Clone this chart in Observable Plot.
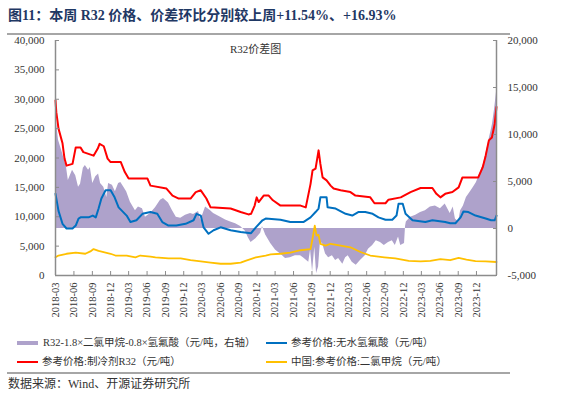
<!DOCTYPE html>
<html><head><meta charset="utf-8">
<script src="https://cdn.jsdelivr.net/npm/d3@7"></script>
<script src="https://cdn.jsdelivr.net/npm/@observablehq/plot@0.6"></script>
<style>
body{margin:0;background:#fff;}
#wrap{position:relative;width:563px;height:412px;font-family:"Liberation Serif","Noto Sans CJK SC",serif;overflow:hidden;}
#title{position:absolute;left:8px;top:7px;font-size:14px;line-height:18px;font-weight:bold;color:#1F3864;white-space:nowrap;}
#topline{position:absolute;left:7px;top:33px;width:503px;height:2px;background:#A6A6A6;}
#chart{position:absolute;left:0;top:34px;}
#ctitle{position:absolute;left:230px;top:40px;font-size:11px;color:#333;white-space:nowrap;}
.lg{position:absolute;font-size:10.5px;color:#333;white-space:nowrap;line-height:14px;}
.sw{position:absolute;width:21px;}
#botline{position:absolute;left:7px;top:372px;width:503px;height:2px;background:#A6A6A6;}
#source{position:absolute;left:8px;top:376px;font-size:12px;line-height:16px;color:#333;white-space:nowrap;}
</style></head>
<body>
<div id="wrap">
  <div id="title">图11：本周 R32 价格、价差环比分别较上周+11.54%、+16.93%</div>
  <div id="topline"></div>
  <div id="chart"></div>
  <div id="ctitle">R32价差图</div>
  <div class="sw" style="left:17px;top:341px;height:4px;background:#AEA2CB"></div>
  <div class="lg" style="left:43px;top:336px">R32-1.8×二氯甲烷-0.8×氢氟酸（元/吨，右轴）</div>
  <div class="sw" style="left:266px;top:342px;height:2px;background:#0070C0"></div>
  <div class="lg" style="left:291px;top:336px">参考价格:无水氢氟酸（元/吨）</div>
  <div class="sw" style="left:17px;top:361px;height:2px;background:#FF0000"></div>
  <div class="lg" style="left:42px;top:355px">参考价格:制冷剂R32（元/吨）</div>
  <div class="sw" style="left:266px;top:361px;height:2px;background:#FFC000"></div>
  <div class="lg" style="left:291px;top:355px">中国:参考价格:二氯甲烷（元/吨）</div>
  <div id="botline"></div>
  <div id="source">数据来源：Wind、开源证券研究所</div>
</div>
<script>
// R32 spread (right axis, yuan/ton)
const spreadSeries = [["2018-03-01",13400],["2018-03-05",11500],["2018-03-16",9400],["2018-04-05",8000],["2018-04-25",6500],["2018-05-04",5100],["2018-05-25",6200],["2018-06-10",5600],["2018-06-24",4400],["2018-07-04",4700],["2018-07-18",6400],["2018-07-28",6700],["2018-08-13",6200],["2018-08-22",6500],["2018-09-03",4800],["2018-09-18",5500],["2018-10-02",5800],["2018-10-12",4800],["2018-10-28",4400],["2018-11-12",3300],["2018-11-21",4800],["2018-12-10",4600],["2018-12-25",3900],["2019-01-10",4800],["2019-01-21",4900],["2019-02-05",4400],["2019-02-19",3900],["2019-03-10",2800],["2019-04-04",1900],["2019-04-19",2300],["2019-05-09",2100],["2019-05-24",1200],["2019-06-18",1600],["2019-07-13",2200],["2019-08-07",3000],["2019-08-22",3200],["2019-09-16",2700],["2019-10-06",1900],["2019-10-25",1200],["2019-11-16",1100],["2019-12-10",1400],["2020-01-04",1600],["2020-01-19",1500],["2020-02-13",1800],["2020-02-24",850],["2020-03-19",2300],["2020-04-13",1900],["2020-04-28",1600],["2020-06-02",1200],["2020-06-27",900],["2020-07-22",700],["2020-08-16",500],["2020-09-10",200],["2020-10-04",-300],["2020-10-19",-1000],["2020-11-01",-1500],["2020-11-25",-1100],["2020-12-19",-500],["2020-12-28",200],["2021-01-13",-700],["2021-02-07",-1600],["2021-03-03",-2300],["2021-03-28",-2700],["2021-04-22",-3200],["2021-05-16",-3100],["2021-06-10",-2900],["2021-07-06",-2900],["2021-07-20",-3100],["2021-08-16",-3600],["2021-08-25",-2300],["2021-09-04",-4600],["2021-09-15",-2000],["2021-09-24",-4800],["2021-10-04",-4100],["2021-10-13",-1500],["2021-10-24",-1600],["2021-11-08",-2700],["2021-11-23",-3100],["2021-12-12",-2900],["2021-12-28",-3400],["2022-01-12",-3200],["2022-02-02",-3800],["2022-02-16",-3100],["2022-03-01",-2900],["2022-03-21",-3600],["2022-04-10",-3900],["2022-05-01",-3400],["2022-05-25",-2900],["2022-06-10",-2200],["2022-07-01",-1800],["2022-07-19",-1300],["2022-08-09",-1500],["2022-08-28",-1800],["2022-09-18",-1500],["2022-10-07",-1300],["2022-10-22",-1800],["2022-11-07",-900],["2022-11-18",-1800],["2022-12-07",-1600],["2022-12-12",200],["2022-12-16",700],["2023-01-06",1200],["2023-02-01",1400],["2023-02-25",1700],["2023-03-21",1900],["2023-04-15",2300],["2023-05-10",2400],["2023-06-04",2100],["2023-06-28",2600],["2023-07-23",1600],["2023-08-07",2300],["2023-08-18",1000],["2023-09-03",700],["2023-09-13",1900],["2023-09-27",2400],["2023-10-12",3300],["2023-11-01",3900],["2023-11-16",4400],["2023-12-01",4900],["2023-12-21",6000],["2024-01-06",6900],["2024-01-21",8300],["2024-02-01",9400],["2024-02-12",10400],["2024-02-19",11100],["2024-03-01",12800],["2024-03-10",14500]];

// 参考价格:无水氢氟酸
const hfSeries = [["2018-03-01",13900],["2018-03-16",11000],["2018-04-05",8800],["2018-04-25",8000],["2018-05-25",8000],["2018-06-10",8500],["2018-06-24",9700],["2018-07-04",9900],["2018-08-13",9900],["2018-09-03",10200],["2018-09-18",9900],["2018-10-02",11400],["2018-10-16",13100],["2018-11-06",14500],["2018-12-01",14500],["2018-12-21",13300],["2019-01-10",11600],["2019-02-19",10200],["2019-03-10",9100],["2019-04-09",9400],["2019-05-09",10500],["2019-06-18",10800],["2019-07-22",10500],["2019-08-16",9100],["2019-09-16",8500],["2019-10-25",8500],["2019-12-10",8800],["2020-01-19",9400],["2020-02-03",10500],["2020-02-24",10200],["2020-03-09",8200],["2020-04-03",7100],["2020-04-28",7700],["2020-06-02",8200],["2020-07-22",7700],["2020-09-10",7400],["2020-11-01",7200],["2020-11-25",8200],["2020-12-28",9400],["2021-01-13",9700],["2021-03-28",9500],["2021-05-16",9100],["2021-07-20",9100],["2021-08-25",9900],["2021-09-19",10800],["2021-10-04",11400],["2021-10-13",13300],["2021-11-13",13300],["2021-11-18",11600],["2021-12-28",11400],["2022-02-16",10500],["2022-03-21",10200],["2022-04-20",10800],["2022-05-25",10800],["2022-07-01",10500],["2022-07-30",9900],["2022-09-03",9500],["2022-10-07",9500],["2022-10-28",10200],["2022-11-07",12200],["2022-11-28",12200],["2022-12-12",10500],["2023-01-16",9400],["2023-03-21",9100],["2023-04-25",9400],["2023-06-28",9100],["2023-07-23",8900],["2023-08-18",8900],["2023-09-13",9900],["2023-09-27",10900],["2023-10-22",10800],["2023-11-26",10200],["2024-01-16",9700],["2024-02-12",9400],["2024-03-01",9400],["2024-03-10",10200]];

// 参考价格:制冷剂R32
const r32Series = [["2018-03-01",29800],["2018-03-05",27800],["2018-03-16",25000],["2018-04-05",22500],["2018-04-15",19900],["2018-04-25",18700],["2018-05-25",19000],["2018-06-10",21800],["2018-07-04",21800],["2018-07-18",21000],["2018-09-07",20400],["2018-09-28",21600],["2018-10-07",22400],["2018-10-28",22000],["2018-11-16",19900],["2018-12-01",19300],["2019-01-21",19300],["2019-02-10",17600],["2019-03-01",16500],["2019-06-03",16500],["2019-06-18",15300],["2019-09-06",14800],["2019-10-06",13600],["2019-11-06",13100],["2020-01-04",13100],["2020-01-30",14200],["2020-02-24",14500],["2020-03-23",13100],["2020-04-13",11600],["2020-07-22",11400],["2020-09-10",10800],["2020-10-19",10400],["2020-11-01",10500],["2020-11-19",11900],["2020-11-29",13300],["2020-12-09",12500],["2021-01-03",13600],["2021-01-28",13600],["2021-02-18",12800],["2021-03-28",11900],["2021-07-06",11900],["2021-08-01",11600],["2021-08-25",15600],["2021-09-04",17900],["2021-09-19",18200],["2021-10-04",21300],["2021-10-13",19000],["2021-10-24",16700],["2021-11-13",16200],["2021-12-03",15300],["2021-12-18",14800],["2022-01-22",14500],["2022-03-12",14200],["2022-04-06",13600],["2022-06-19",13300],["2022-07-10",12300],["2022-09-03",12300],["2022-09-18",12900],["2022-11-18",13300],["2023-01-06",14200],["2023-02-25",14900],["2023-04-25",14900],["2023-05-15",13900],["2023-06-04",13300],["2023-06-28",13900],["2023-08-03",14200],["2023-09-03",15000],["2023-09-22",16700],["2023-12-10",16700],["2024-01-01",18400],["2024-01-16",20400],["2024-02-01",23000],["2024-02-16",23500],["2024-03-01",25800],["2024-03-10",28700]];

// 中国:参考价格:二氯甲烷
const dcmSeries = [["2018-03-01",3100],["2018-03-16",3400],["2018-04-25",3700],["2018-06-10",3900],["2018-07-28",3700],["2018-08-22",4100],["2018-09-07",4500],["2018-10-02",4200],["2018-11-06",3900],["2018-12-01",3700],["2018-12-25",3400],["2019-02-19",3400],["2019-04-04",3100],["2019-04-28",3400],["2019-06-18",3200],["2019-07-13",3100],["2019-09-16",2900],["2019-11-16",2900],["2020-01-04",2600],["2020-02-24",2400],["2020-04-13",2200],["2020-06-02",2000],["2020-07-22",2000],["2020-09-10",2200],["2020-10-04",2500],["2020-11-25",3100],["2021-01-13",3400],["2021-02-07",3600],["2021-03-28",3700],["2021-05-16",3900],["2021-07-06",4300],["2021-08-25",4500],["2021-09-04",6300],["2021-09-15",8500],["2021-09-24",6800],["2021-10-04",6900],["2021-10-13",5400],["2021-11-08",5100],["2021-12-03",5400],["2022-01-22",5100],["2022-03-12",4800],["2022-05-01",4000],["2022-06-19",3400],["2022-08-28",3100],["2022-10-22",2900],["2022-12-28",2500],["2023-02-25",2400],["2023-04-15",2500],["2023-06-04",2800],["2023-07-23",2600],["2023-09-03",3000],["2023-10-12",2700],["2023-11-26",2450],["2024-01-16",2400],["2024-03-10",2300]];

const xTickLabels = ["2018-03","2018-06","2018-09","2018-12","2019-03","2019-06","2019-09","2019-12","2020-03","2020-06","2020-09","2020-12","2021-03","2021-06","2021-09","2021-12","2022-03","2022-06","2022-09","2022-12","2023-03","2023-06","2023-09","2023-12"];
const leftTicks = [0,5000,10000,15000,20000,25000,30000,35000,40000];
const rightTicks = [-5000,0,5000,10000,15000,20000];
const xRange = ["2018-03-01","2024-03-10"];

const parse = d3.utcParse("%Y-%m-%d");
const parseMonth = d3.utcParse("%Y-%m");
const rows = arr => arr.map(([d, v]) => ({date: parse(d), value: v}));
const R_MIN = rightTicks[0], R_MAX = rightTicks[rightTicks.length - 1];
const L_MAX = leftTicks[leftTicks.length - 1];
const k = L_MAX / (R_MAX - R_MIN);
const toLeft = v => (v - R_MIN) * k;
const comma = d3.format(",");
const fmt = n => n < 0 ? "-" + comma(-n) : comma(n);
const xDomain = xRange.map(parse);
const axisColor = "#8c8c8c";

const chart = Plot.plot({
  width: 563, height: 290,
  marginTop: 6, marginBottom: 49, marginLeft: 55, marginRight: 67,
  style: {fontFamily: "'Liberation Serif', serif", fontSize: "11px", color: "#333", background: "transparent"},
  x: {type: "utc", domain: xDomain},
  y: {domain: [0, L_MAX]},
  marks: [
    Plot.areaY(rows(spreadSeries), {x: "date", y1: toLeft(0), y2: d => toLeft(d.value), fill: "#AEA2CB"}),
    Plot.lineY(rows(hfSeries), {x: "date", y: "value", stroke: "#0070C0", strokeWidth: 2}),
    Plot.lineY(rows(r32Series), {x: "date", y: "value", stroke: "#FF0000", strokeWidth: 2}),
    Plot.lineY(rows(dcmSeries), {x: "date", y: "value", stroke: "#FFC000", strokeWidth: 1.8}),
    Plot.ruleX([xDomain[0]], {stroke: axisColor, strokeWidth: 1.5}),
    Plot.ruleX([xDomain[1]], {stroke: axisColor, strokeWidth: 1.5}),
    Plot.ruleY([0], {stroke: axisColor, strokeWidth: 1.5}),
    Plot.axisY({anchor: "left", ticks: leftTicks, tickFormat: fmt, tickSize: -4, tickPadding: 15, label: null, stroke: axisColor}),
    Plot.axisY({anchor: "right", ticks: rightTicks.map(toLeft), tickFormat: d => fmt(Math.round(d / k + R_MIN)), tickSize: -4, tickPadding: 15, label: null, stroke: axisColor}),
    Plot.axisX({ticks: xTickLabels.map(parseMonth), tickFormat: d3.utcFormat("%Y-%m"), tickRotate: -90, tickSize: -4, tickPadding: 11, label: null, stroke: axisColor, fontSize: 10.5})
  ]
});
document.getElementById("chart").appendChild(chart);
</script>
</body></html>
